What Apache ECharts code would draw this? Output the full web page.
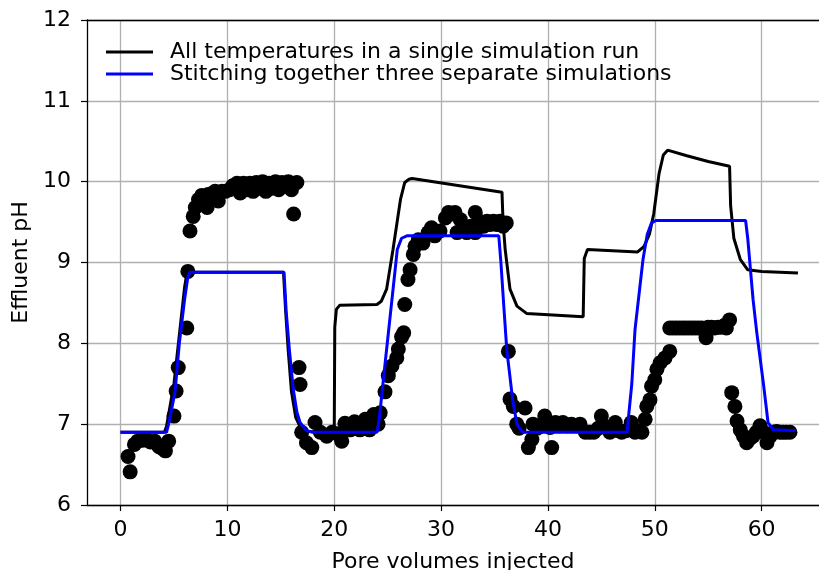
<!DOCTYPE html>
<html>
<head>
<meta charset="utf-8">
<script src="https://cdn.jsdelivr.net/npm/echarts@6/dist/echarts.min.js"></script>
<style>html,body{margin:0;padding:0;background:#fff}#c{width:819px;height:570px}</style>
</head>
<body>
<div id="c"></div>
<script>
var xTicks = [0, 10, 20, 30, 40, 50, 60];
var yTicks = [6, 7, 8, 9, 10, 11, 12];

var observed = [
  [0.7,6.6],[0.9,6.41],[1.3,6.75],[1.6,6.79],[2.0,6.8],[2.4,6.81],[2.8,6.78],[3.2,6.79],[3.6,6.72],[3.9,6.7],[4.2,6.67],[4.5,6.79],
  [5.0,7.1],[5.2,7.41],[5.4,7.7],[6.2,8.19],[6.3,8.89],
  [6.5,9.39],[6.8,9.57],[7.0,9.68],[7.3,9.78],[7.6,9.83],[8.1,9.68],[8.2,9.84],[8.5,9.85],[8.85,9.88],[9.15,9.76],[9.5,9.88],[9.8,9.88],
  [10.2,9.9],[10.5,9.95],[10.9,9.98],[11.2,9.86],[11.5,9.98],[11.8,9.9],[12.1,9.98],[12.4,9.88],[12.7,9.99],[13.0,9.92],[13.3,10.0],
  [13.6,9.88],[13.9,9.98],[14.2,9.92],[14.5,10.0],[14.8,9.9],[15.1,9.99],[15.4,9.95],[15.7,10.0],[16.0,9.9],[16.2,9.6],[16.5,9.99],
  [16.7,7.7],[16.8,7.49],[16.95,6.9],[17.4,6.77],[17.9,6.71],[18.2,7.02],[18.7,6.9],[19.3,6.85],[19.8,6.9],[20.3,6.88],[20.7,6.79],
  [21.0,7.01],[21.5,6.93],[21.9,7.03],[22.4,6.93],[22.9,7.06],[23.3,6.93],[23.7,7.12],[24.1,7.0],[24.3,7.14],
  [24.75,7.4],[25.06,7.6],[25.4,7.72],[25.85,7.82],[26.0,7.93],[26.3,8.08],[26.5,8.13],[26.6,8.48],[26.9,8.79],[27.1,8.91],[27.4,9.1],
  [27.56,9.2],[27.87,9.28],[28.3,9.24],[28.8,9.37],[29.1,9.43],[29.4,9.33],[29.9,9.39],[30.4,9.55],[30.7,9.62],[31.0,9.6],[31.3,9.62],
  [31.5,9.37],[31.8,9.53],[32.1,9.45],[32.4,9.37],[32.8,9.45],[33.2,9.62],[33.2,9.37],[33.6,9.51],[34.0,9.45],[34.3,9.51],[34.6,9.47],
  [34.9,9.51],[35.2,9.47],[35.5,9.51],[35.8,9.45],[36.1,9.49],
  [36.3,7.9],[36.45,7.31],[36.76,7.22],[37.08,7.0],[37.3,6.95],[37.86,7.2],[38.17,6.71],[38.5,6.81],[38.6,7.0],[39.0,6.95],[39.3,6.98],
  [39.7,7.1],[40.0,7.02],[40.2,6.96],[40.35,6.71],[40.7,7.02],[41.0,6.98],[41.4,7.02],[41.8,6.98],[42.2,7.0],[42.6,6.98],[43.0,7.0],
  [43.5,6.9],[43.9,6.9],[44.3,6.9],[44.7,6.95],[45.0,7.1],[45.2,6.98],[45.5,6.95],[45.8,6.9],[46.3,7.02],[46.6,6.92],[46.9,6.9],
  [47.3,6.92],[47.8,7.02],[48.15,6.9],[48.5,6.92],[48.8,6.9],
  [49.1,7.06],[49.25,7.22],[49.55,7.3],[49.7,7.47],[50.0,7.55],[50.2,7.68],[50.5,7.76],[50.96,7.82],[51.4,7.9],
  [51.4,8.19],[51.7,8.19],[52.0,8.19],[52.3,8.19],[52.6,8.19],[52.9,8.19],[53.2,8.19],[53.5,8.19],[53.8,8.19],[54.1,8.19],[54.4,8.19],
  [54.8,8.07],[55.0,8.2],[55.3,8.2],[55.6,8.19],[55.9,8.2],[56.2,8.2],[56.5,8.22],[56.7,8.19],[57.0,8.29],
  [57.2,7.39],[57.5,7.22],[57.7,7.04],[58.0,6.93],[58.3,6.85],[58.6,6.77],[58.9,6.82],[59.2,6.85],[59.5,6.9],[59.85,6.98],[60.2,6.9],
  [60.5,6.77],[60.8,6.85],[61.1,6.9],[61.4,6.91],[61.7,6.9],[62.0,6.9],[62.3,6.9],[62.65,6.9]
];

var singleRun = [
  [0,6.9],[4.1,6.9],[4.3,6.97],[5.0,7.5],[5.5,8.1],[6.0,8.7],[6.2,8.86],[6.4,8.88],
  [15.25,8.88],[15.45,8.4],[15.7,7.9],[16.0,7.4],[16.4,7.08],[16.8,6.97],[17.5,6.91],[20.0,6.9],
  [20.05,8.2],[20.2,8.42],[20.5,8.47],[24.0,8.48],[24.4,8.52],[24.9,8.67],[25.5,9.16],[26.2,9.78],[26.6,9.99],[27.0,10.03],[27.3,10.04],
  [35.7,9.87],[35.8,9.5],[36.0,9.16],[36.45,8.67],[37.1,8.46],[38.0,8.37],[43.3,8.33],
  [43.4,9.05],[43.7,9.16],[48.4,9.13],[49.0,9.2],[49.5,9.35],[49.9,9.6],[50.4,10.1],[50.8,10.33],[51.2,10.39],
  [53.0,10.32],[55.0,10.25],[57.0,10.19],[57.1,9.7],[57.4,9.3],[58.0,9.04],[58.7,8.91],[60.0,8.89],[63.4,8.87]
];

var stitched = [
  [0,6.9],[4.3,6.9],[4.5,7.0],[5.1,7.4],[5.5,8.0],[6.0,8.55],[6.3,8.82],[6.5,8.88],
  [15.3,8.88],[15.5,8.4],[15.8,7.92],[16.17,7.43],[16.5,7.15],[16.8,7.02],[17.4,6.92],[18.0,6.9],
  [24.0,6.9],[24.2,7.05],[24.8,7.8],[25.4,8.54],[25.9,9.16],[26.3,9.3],[26.8,9.33],
  [35.4,9.33],[35.6,9.0],[35.9,8.4],[36.15,7.92],[36.7,7.3],[37.1,7.0],[37.6,6.9],
  [47.4,6.9],[47.85,7.5],[48.15,8.17],[48.9,9.04],[49.3,9.35],[49.7,9.49],[50.1,9.52],
  [58.5,9.52],[58.7,9.3],[59.2,8.54],[59.55,8.13],[60.16,7.51],[60.6,7.02],[61.1,6.93],[63.2,6.92]
];

var FONT = 'DejaVu Sans';
var FS = 22;
var chart = echarts.init(document.getElementById('c'), null, {renderer: 'canvas'});
chart.setOption({
  animation: false,
  backgroundColor: '#fff',
  textStyle: {fontFamily: FONT},
  grid: {left: 87, right: 0, top: 20, bottom: 65, containLabel: false, outerBoundsMode: 'none'},
  legend: {
    orient: 'vertical', left: 101, top: 36, itemWidth: 47, itemHeight: 3, itemGap: 0,
    icon: 'rect',
    data: ['All temperatures in a single simulation run', 'Stitching together three separate simulations'],
    textStyle: {fontFamily: FONT, fontSize: FS, color: '#000', padding: [0,0,0,12], lineHeight: 21},
    selectedMode: false
  },
  xAxis: [{
    type: 'value', min: -3.14, max: 65.37,
    name: 'Pore volumes injected', nameLocation: 'middle', nameGap: 46,
    nameTextStyle: {fontFamily: FONT, fontSize: FS, color: '#000'},
    axisLine: {show: true, onZero: false, lineStyle: {color: '#000', width: 1.3}},
    axisTick: {show: true, length: 6, lineStyle: {color: '#000', width: 1.2}, customValues: xTicks},
    axisLabel: {fontFamily: FONT, fontSize: FS, color: '#000', margin: 14, customValues: xTicks},
    splitLine: {show: true, lineStyle: {color: '#b0b0b0', width: 1.3}}
  }, {
    type: 'value', position: 'top', min: -3.14, max: 65.37,
    axisLine: {show: true, onZero: false, lineStyle: {color: '#000', width: 1.3}},
    axisTick: {show: false}, axisLabel: {show: false}, splitLine: {show: false}
  }],
  yAxis: {
    type: 'value', min: 6, max: 12, interval: 1,
    name: 'Effluent pH', nameLocation: 'middle', nameGap: 47,
    nameTextStyle: {fontFamily: FONT, fontSize: FS, color: '#000'},
    axisLine: {show: true, onZero: false, lineStyle: {color: '#000', width: 1.3}},
    axisTick: {show: true, length: 6, lineStyle: {color: '#000', width: 1.2}},
    axisLabel: {fontFamily: FONT, fontSize: FS, color: '#000', margin: 16},
    splitLine: {show: true, lineStyle: {color: '#b0b0b0', width: 1.3}}
  },
  series: [{
    name: 'Observed', type: 'scatter', data: observed, symbolSize: 15,
    itemStyle: {color: '#000', opacity: 1}, z: 2
  }, {
    name: 'All temperatures in a single simulation run', type: 'line', data: singleRun,
    symbol: 'none', showSymbol: false, lineStyle: {color: '#000', width: 3}, itemStyle: {color: '#000'}, z: 3
  }, {
    name: 'Stitching together three separate simulations', type: 'line', data: stitched,
    symbol: 'none', showSymbol: false, lineStyle: {color: '#0000ff', width: 3}, itemStyle: {color: '#0000ff'}, z: 4
  }]
});
</script>
</body>
</html>
